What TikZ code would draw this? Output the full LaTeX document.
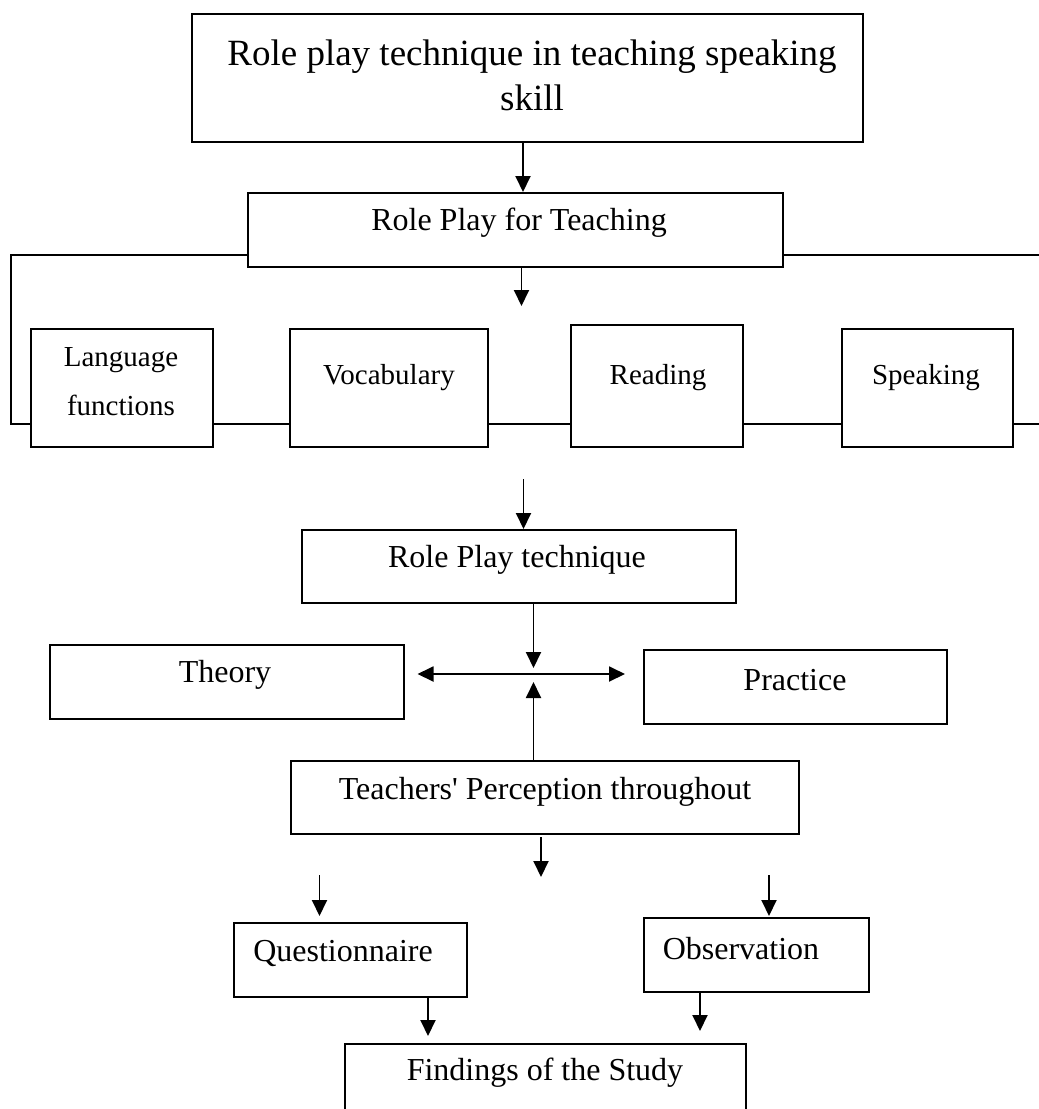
\documentclass[tikz,border=0pt]{standalone}
\usepackage{fontspec}
\setmainfont{Liberation Serif}
\usetikzlibrary{arrows.meta}
\begin{document}
\begin{tikzpicture}[x=1pt,y=-1pt,
  box/.style={draw, line width=2pt, inner sep=0pt},
  ln/.style={line width=1.9pt},
  arr/.style={line width=1.9pt, -{Triangle[length=16pt,width=15pt]}},
  darr/.style={line width=1.9pt, {Triangle[length=16pt,width=15pt]}-{Triangle[length=16pt,width=15pt]}},
  big/.style={font=\fontsize{37}{45}\selectfont, align=center, inner sep=0pt},
  mid/.style={font=\fontsize{32}{38}\selectfont, inner sep=0pt},
  sml/.style={font=\fontsize{29}{49}\selectfont, inner sep=0pt, align=center}]
\useasboundingbox (0,0) rectangle (1039,1109);
\clip (0,0) rectangle (1039,1109);
\fill[white] (0,0) rectangle (1039,1109);

% boxes
\node[box, minimum width=671pt, minimum height=128pt] (top) at (527.5,78) {};
\node[box, minimum width=535pt, minimum height=74pt] (rpft) at (515.5,230) {};
\node[box, minimum width=182pt, minimum height=118pt] (lf) at (122,388) {};
\node[box, minimum width=198pt, minimum height=118pt] (voc) at (389,388) {};
\node[box, minimum width=172pt, minimum height=122pt] (read) at (657,386) {};
\node[box, minimum width=171pt, minimum height=118pt] (speak) at (927.5,388) {};
\node[box, minimum width=434pt, minimum height=73pt] (rpt) at (518.5,566.5) {};
\node[box, minimum width=353.5pt, minimum height=74pt] (theory) at (226.75,682) {};
\node[box, minimum width=303.5pt, minimum height=74pt] (practice) at (795.25,687) {};
\node[box, minimum width=508pt, minimum height=73pt] (tp) at (545,797.5) {};
\node[box, minimum width=233pt, minimum height=74pt] (quest) at (350.5,960) {};
\node[box, minimum width=225.5pt, minimum height=74pt] (obs) at (756.25,955) {};
\node[box, minimum width=400.5pt, minimum height=116pt] (find) at (545.25,1102) {};

% texts
\node[big] (ttop) at (532,75) {Role play technique in teaching speaking\\skill};
\node[mid] (trpft) at (519,223) {Role Play for Teaching};
\node[sml] (tlf) at (121,382) {Language\\functions};
\node[sml] (tvoc) at (389,378) {Vocabulary};
\node[sml] (tread) at (658,378) {Reading};
\node[sml] (tspeak) at (926,378) {Speaking};
\node[mid] (trpt) at (517,560) {Role Play technique};
\node[mid] (ttheory) at (225,675) {Theory};
\node[mid] (tpractice) at (795,680) {Practice};
\node[mid] (ttp) at (545,792) {Teachers\textquotesingle\ Perception throughout};
\node[mid] (tquest) at (343,953) {Questionnaire};
\node[mid] (tobs) at (741,949) {Observation};
\node[mid] (tfind) at (545,1073) {Findings of the Study};

% bracket lines
\coordinate (L) at (11,255);
\coordinate (R) at (1045,255);
\coordinate (LB) at (11,424);
\coordinate (RB) at (1045,424);
\draw[ln] (rpft.west |- L) -- (L) -- (LB) -- (lf.west |- LB);
\draw[ln] (rpft.east |- L) -- (R);
\draw[ln] (lf.east |- LB) -- (voc.west |- LB);
\draw[ln] (voc.east |- LB) -- (read.west |- LB);
\draw[ln] (read.east |- LB) -- (speak.west |- LB);
\draw[ln] (speak.east |- LB) -- (RB);

% arrows
\coordinate (x1) at (523,0);
\draw[arr] (top.south -| x1) -- (rpft.north -| x1);
\coordinate (e2) at (521.5,306);
\draw[arr] (rpft.south -| e2) -- (e2);
\coordinate (s3) at (523.5,479);
\draw[arr] (s3) -- (rpt.north -| s3);
\coordinate (e4) at (533.5,668);
\draw[arr] (rpt.south -| e4) -- (e4);
\coordinate (dl) at (417.5,674);
\coordinate (dr) at (625,674);
\draw[darr] (dl) -- (dr);
\coordinate (e5) at (533.5,682);
\draw[arr] (tp.north -| e5) -- (e5);
\coordinate (s6) at (541,837);
\coordinate (e6) at (541,877);
\draw[arr] (s6) -- (e6);
\coordinate (s7) at (319.5,875);
\coordinate (e7) at (319.5,916);
\draw[arr] (s7) -- (e7);
\coordinate (s8) at (769,875);
\coordinate (e8) at (769,916);
\draw[arr] (s8) -- (e8);
\coordinate (e9) at (428,1036);
\draw[arr] (quest.south -| e9) -- (e9);
\coordinate (e10) at (700,1031);
\draw[arr] (obs.south -| e10) -- (e10);
\end{tikzpicture}
\end{document}
